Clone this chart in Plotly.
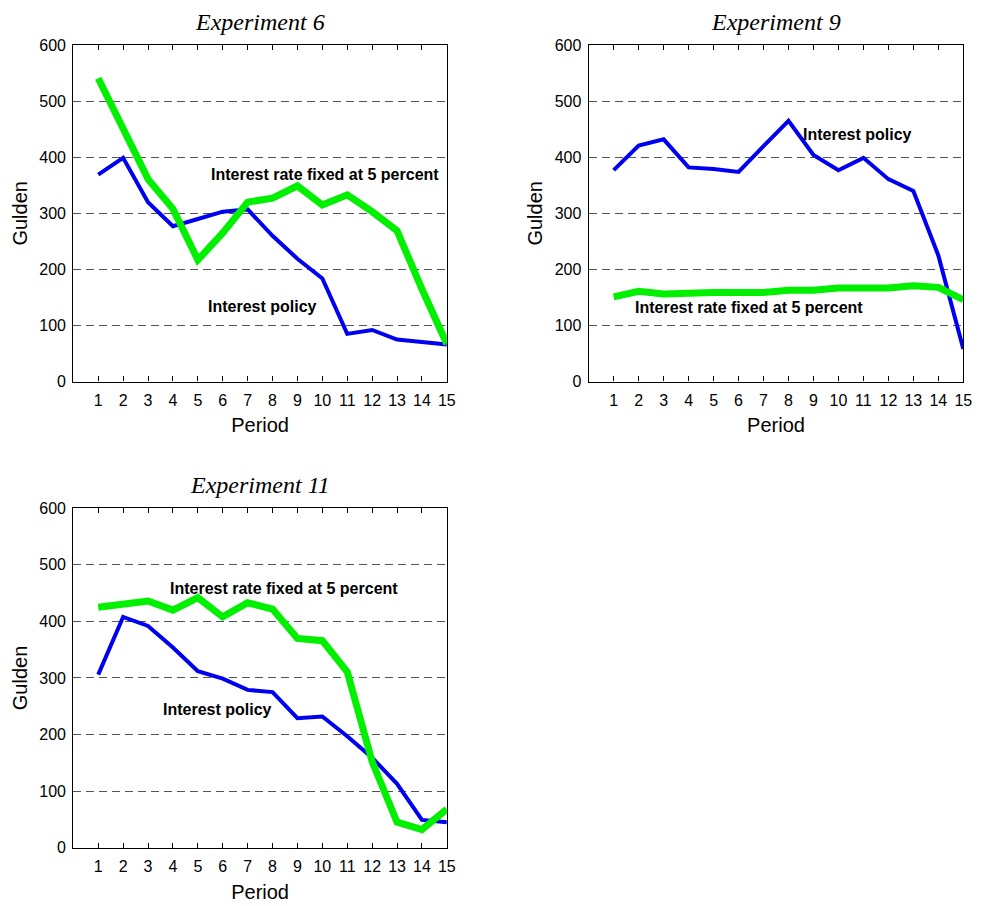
import plotly.graph_objects as go

# periods on the x axis
periods = list(range(1, 16))

# Experiment 6
exp6_policy = [369, 399, 320, 277, 290, 303, 307, 260, 219, 184, 85, 92, 75, 70, 66]
exp6_fixed = [541, 452, 361, 308, 217, 265, 320, 327, 349, 315, 333, 303, 269, 165, 67]

# Experiment 9
exp9_policy = [377, 421, 432, 382, 379, 374, 420, 465, 404, 377, 399, 361, 340, 225, 58]
exp9_fixed = [151, 161, 156, 159, 159, 159, 159, 163, 163, 167, 167, 167, 171, 168, 146]

# Experiment 11
exp11_policy = [306, 408, 392, 354, 312, 299, 279, 275, 229, 232, 197, 159, 113, 49, 45]
exp11_fixed = [425, 429, 436, 420, 442, 408, 433, 422, 370, 366, 311, 152, 45, 32, 68]

y_ticks = [0, 100, 200, 300, 400, 500, 600]

BLUE = "#0000f0"
GREEN = "#00f000"
FONT = "Liberation Sans"

panels = [
    # (title, policy, fixed, xaxis, yaxis, xdomain, ydomain)
    ("Experiment 6", exp6_policy, exp6_fixed, "x", "y", [0.0670, 0.4501], [0.5888, 0.9672]),
    ("Experiment 9", exp9_policy, exp9_fixed, "x2", "y2", [0.5956, 0.9798], [0.5888, 0.9672]),
    ("Experiment 11", exp11_policy, exp11_fixed, "x3", "y3", [0.0670, 0.4501], [0.0645, 0.4462]),
]

fig = go.Figure()

for title, pol, fix, xa, ya, xd, yd in panels:
    fig.add_trace(go.Scatter(x=periods, y=pol, mode="lines", xaxis=xa, yaxis=ya,
                             line=dict(color=BLUE, width=4), showlegend=False))
    fig.add_trace(go.Scatter(x=periods, y=fix, mode="lines", xaxis=xa, yaxis=ya,
                             line=dict(color=GREEN, width=7), showlegend=False))

    xkey = "xaxis" + xa[1:]
    ykey = "yaxis" + ya[1:]
    fig.update_layout({
        xkey: dict(domain=xd, anchor=ya, range=[0, 15], tickvals=periods,
                   ticks="inside", ticklen=5, tickcolor="black", mirror="ticks",
                   showline=True, linecolor="black", linewidth=1.3,
                   showgrid=False, zeroline=False, ticklabelstandoff=4,
                   tickfont=dict(family=FONT, size=16, color="black"),
                   title=dict(text="Period", font=dict(family=FONT, size=20, color="black"),
                              standoff=10)),
        ykey: dict(domain=yd, anchor=xa, range=[0, 600], tickvals=y_ticks,
                   ticks="", mirror=True, ticklabelstandoff=3,
                   showline=True, linecolor="black", linewidth=1.3,
                   showgrid=True, gridcolor="#555555", griddash="8px,5px", gridwidth=1,
                   zeroline=False,
                   tickfont=dict(family=FONT, size=16, color="black"),
                   title=dict(text="Gulden", font=dict(family=FONT, size=20, color="black"),
                              standoff=6)),
    })

    fig.add_annotation(text=title, xref=xkey.replace("axis", "") + " domain", yref="paper",
                       x=0.5, y=yd[1] + 0.009, yanchor="bottom", showarrow=False,
                       font=dict(family="Liberation Serif", size=24, color="black", style="italic"))

# line labels
label_font = dict(family=FONT, size=16, color="black", weight="bold")
labels = [
    ("x", "y", 10.1, 370, "Interest rate fixed at 5 percent"),
    ("x", "y", 7.6, 133, "Interest policy"),
    ("x2", "y2", 10.75, 440, "Interest policy"),
    ("x2", "y2", 6.4, 132, "Interest rate fixed at 5 percent"),
    ("x3", "y3", 8.45, 459, "Interest rate fixed at 5 percent"),
    ("x3", "y3", 5.8, 245, "Interest policy"),
]
for xa, ya, xv, yv, txt in labels:
    fig.add_annotation(text=txt, xref=xa, yref=ya, x=xv, y=yv, showarrow=False,
                       font=label_font)

fig.update_layout(width=984, height=906, margin=dict(l=0, r=0, t=0, b=0),
                  paper_bgcolor="white", plot_bgcolor="white")

fig.write_html("out.html")
